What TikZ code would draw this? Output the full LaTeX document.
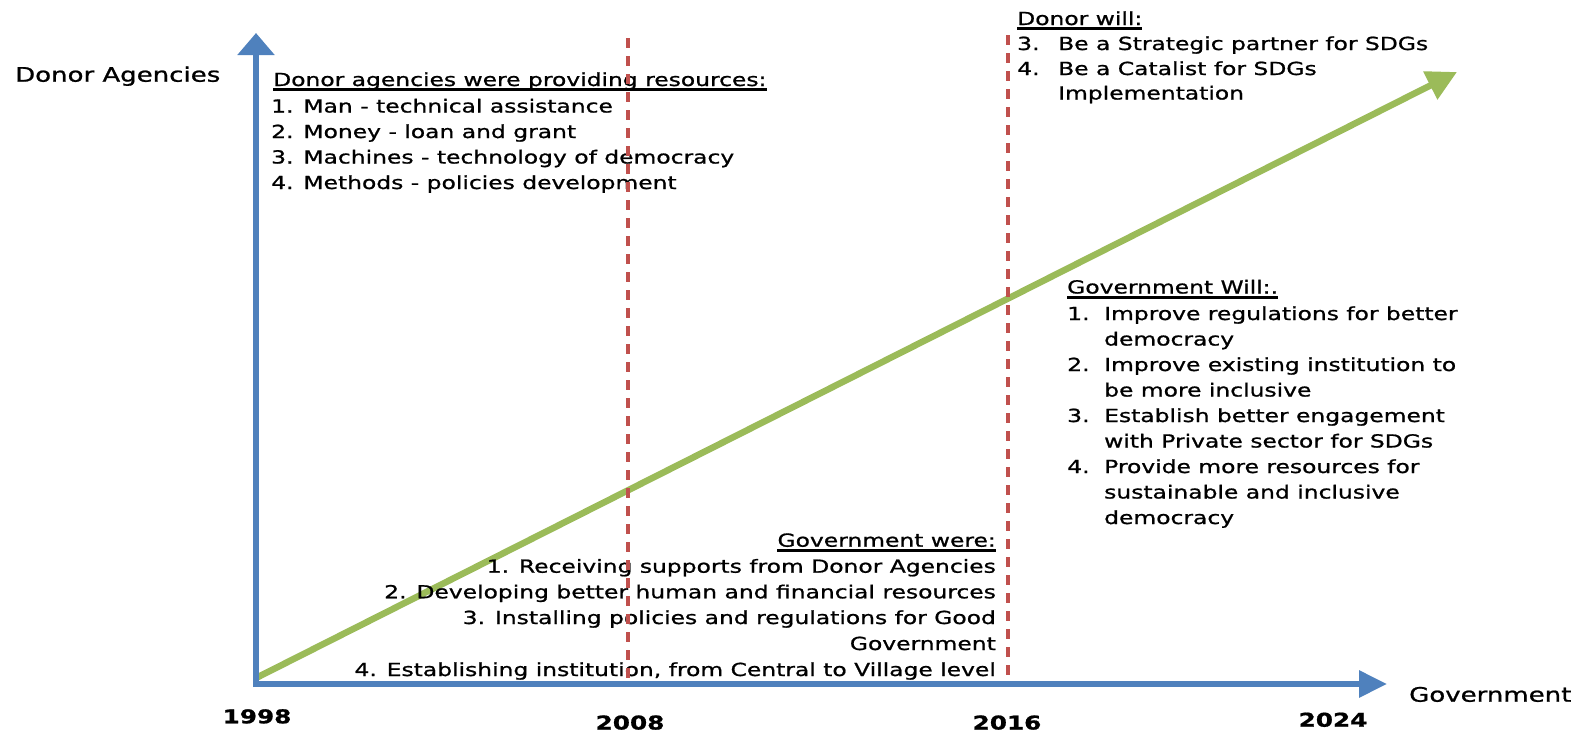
\documentclass[tikz,border=0pt]{standalone}
\usepackage{fontspec}
\setmainfont{DejaVu Sans}[FakeStretch=1.3,FakeBold=1.0]
\usetikzlibrary{arrows.meta}
\definecolor{axisblue}{HTML}{4F81BD}
\definecolor{arrgreen}{HTML}{9BBB59}
\definecolor{dashred}{HTML}{C0504D}
\newcommand{\nb}[2]{\makebox[#1][l]{#2}}
\begin{document}
\begin{tikzpicture}[x=1pt,y=-1pt,
  txt/.style={inner sep=0pt, font=\fontsize{18}{22}\selectfont, anchor=base west},
  rtxt/.style={txt, anchor=base east},
  axlbl/.style={inner sep=0pt, font=\fontsize{20}{24}\selectfont, anchor=base west},
  yr/.style={inner sep=0pt, font=\fontsize{19}{23}\selectfont\bfseries, anchor=base},
  axisline/.style={draw=axisblue, line width=6pt},
  ul/.style={line width=2.5pt, black},
  guide/.style={draw=dashred, line width=3.5pt, dash pattern=on 10pt off 8pt},
  trend/.style={draw=arrgreen, line width=6.5pt}]
\useasboundingbox (0,0) rectangle (1587,731);

% coordinates
\coordinate (O) at (256,684);
\coordinate (ytip) at (256,33);
\coordinate (xstart) at (253,684);
\coordinate (xtip) at (1387,684);
\coordinate (g0) at (256,678);
\coordinate (g1) at (1457,72);
\coordinate (d1t) at (628,38);
\coordinate (d1b) at (628,683);
\coordinate (d2t) at (1008,35);
\coordinate (d2b) at (1008,683);

% green trend arrow
\draw[trend, -{Triangle[length=30pt,width=30pt]}] (g0) -- (g1);

% axis labels
\node[axlbl] (lblDonor) at (15,81.7) {Donor Agencies};
\node[axlbl] (lblGov) at (1409,701.7) {Government};

% years
\node[yr] (y1998) at (257,723.3) {1998};
\node[yr] (y2008) at (630,729.5) {2008};
\node[yr] (y2016) at (1007,729.5) {2016};
\node[yr] (y2024) at (1333,726.7) {2024};

% block 1
\node[txt] (t1) at (273,86) {Donor agencies were providing resources:};
\draw[ul] ([yshift=-3.5pt]t1.base west) -- ([yshift=-3.5pt]t1.base east);
\node[txt] (t1a) at (271,112.5) {1. Man - technical assistance};
\node[txt] (t1b) at (271,138) {2. Money - loan and grant};
\node[txt] (t1c) at (271,163.5) {3. Machines - technology of democracy};
\node[txt] (t1d) at (271,189) {4. Methods - policies development};

% block 2
\node[txt] (t2) at (1017,25) {Donor will:};
\draw[ul] ([yshift=-3.5pt]t2.base west) -- ([yshift=-3.5pt]t2.base east);
\node[txt] (t2a) at (1017,50) {\nb{41pt}{3.}Be a Strategic partner for SDGs};
\node[txt] (t2b) at (1017,75) {\nb{41pt}{4.}Be a Catalist for SDGs};
\node[txt] (t2c) at (1017,99.5) {\nb{41pt}{}Implementation};

% block 3
\node[txt] (t3) at (1067,293.5) {Government Will:.};
\draw[ul] ([yshift=-4pt]t3.base west) -- ([yshift=-4pt]t3.base east);
\node[txt] (t3a) at (1067,320) {\nb{37pt}{1.}Improve regulations for better};
\node[txt] (t3b) at (1067,345.5) {\nb{37pt}{}democracy};
\node[txt] (t3c) at (1067,371) {\nb{37pt}{2.}Improve existing institution to};
\node[txt] (t3d) at (1067,396.5) {\nb{37pt}{}be more inclusive};
\node[txt] (t3e) at (1067,422) {\nb{37pt}{3.}Establish better engagement};
\node[txt] (t3f) at (1067,447.5) {\nb{37pt}{}with Private sector for SDGs};
\node[txt] (t3g) at (1067,473) {\nb{37pt}{4.}Provide more resources for};
\node[txt] (t3h) at (1067,498.5) {\nb{37pt}{}sustainable and inclusive};
\node[txt] (t3i) at (1067,524) {\nb{37pt}{}democracy};

% block 4
\node[rtxt] (t4) at (996,546.7) {Government were:};
\draw[ul] ([yshift=-4pt]t4.base west) -- ([yshift=-4pt]t4.base east);
\node[rtxt] (t4a) at (996,572.7) {1. Receiving supports from Donor Agencies};
\node[rtxt] (t4b) at (996,598.3) {2. Developing better human and financial resources};
\node[rtxt] (t4c) at (996,624) {3. Installing policies and regulations for Good};
\node[rtxt] (t4d) at (996,650) {Government};
\node[rtxt] (t4e) at (996,676) {4. Establishing institution, from Central to Village level};

% dashed guides
\draw[guide] (d1t) -- (d1b);
\draw[guide] (d2t) -- (d2b);

% axes
\draw[axisline, -{Triangle[length=22pt,width=36pt]}] ([yshift=-3pt]O) -- (ytip);
\draw[axisline, -{Triangle[length=28pt,width=26pt]}] (xstart) -- (xtip);
\end{tikzpicture}
\end{document}
